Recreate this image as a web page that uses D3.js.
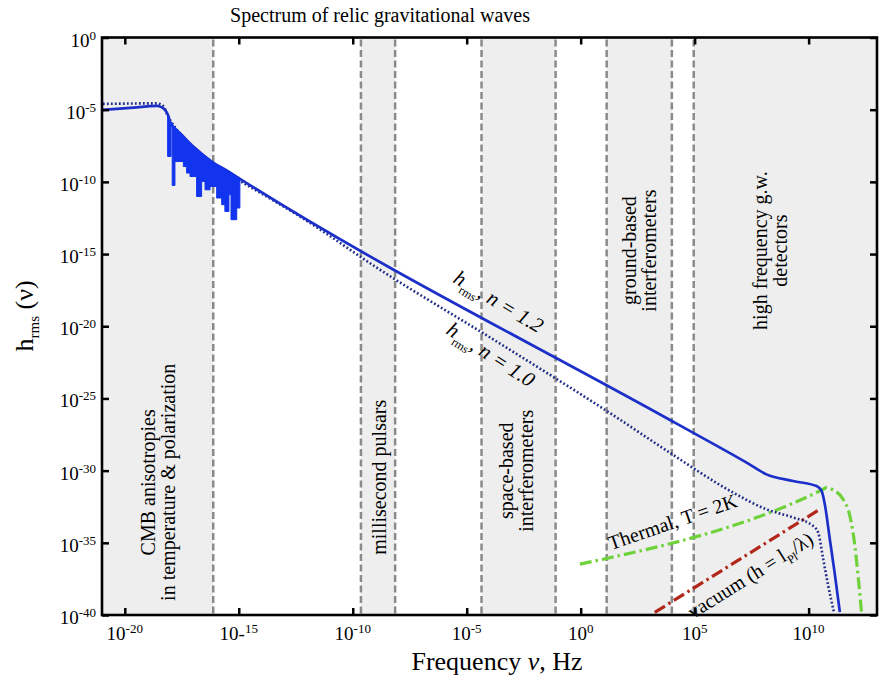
<!DOCTYPE html>
<html>
<head>
<meta charset="utf-8">
<script src="https://cdn.jsdelivr.net/npm/d3@7"></script>
<style>
body { margin: 0; background: #fff; }
text { font-family: "Liberation Serif", "Times New Roman", serif; fill: #000; }
</style>
</head>
<body>
<script>
// every value below is a log10 (frequency in Hz, h_rms dimensionless)

var xTickExp = [-20, -15, -10, -5, 0, 5, 10];
var xTickBase = ["10", "10-", "10", "10", "10", "10", "10"];
var xTickSup = ["-20", "15", "-10", "-5", "0", "5", "10"];
var yTickExp = [0, -5, -10, -15, -20, -25, -30, -35, -40];

// dashed borders of the detector windows
var bandEdges = [-16.12, -9.64, -8.14, -4.35, -1.1, 1.14, 4.0, 4.96];
// shaded windows
var grayBandFrom = [-21, -9.64, -4.35, 1.14, 4.96];
var grayBandTo = [-16.12, -8.14, -1.1, 4.0, 13];

var bandLabelLines = [
	["CMB anisotropies", "in temperature & polarization"],
	["millisecond pulsars"],
	["space-based", "interferometers"],
	["ground-based", "interferometers"],
	["high frequency g.w.", "detectors"]
];
var bandLabelF = [-18.68, -8.54, -2.99, 2.42, 8.17];
var bandLabelH = [-30.81, -30.46, -30.01, -14.76, -14.76];

// h_rms, n = 1.2 (solid)
var n12F = [-20.96, -19.77, -18.60, -18.37, -18.24, -18.09, -18.02, -17.50, -16.92, -16.19, -15.46, -14.95,
	4.35, 7.28, 8.15, 9.32, 10.35, 10.57, 10.71, 10.93, 11.15, 11.37];
var n12H = [-5.01, -4.88, -4.74, -4.84, -5.01, -5.43, -5.82, -6.74, -7.66, -8.59, -9.28, -9.79,
	-26.87, -29.45, -30.26, -30.72, -31.07, -31.41, -32.33, -34.75, -37.17, -39.8];

// oscillating part of the n = 1.2 spectrum: top envelope and the jagged lower edge (steps)
var oscUpperF = [-18.12, -18.09, -18.02, -17.50, -16.92, -16.19, -15.46, -14.95];
var oscUpperH = [-5.35, -5.43, -5.82, -6.74, -7.66, -8.59, -9.28, -9.79];
var oscLowF = [-18.12, -17.97, -17.92, -17.80, -17.43, -17.29, -17.14, -16.85, -16.63, -16.48,
	-16.26, -15.97, -15.75, -15.61, -15.43, -15.34, -15.09, -14.95];
var oscLowH = [-8.24, -6.05, -10.25, -8.59, -8.94, -9.39, -9.63, -11.01, -9.97, -10.55,
	-10.32, -11.12, -11.58, -12.05, -10.89, -12.62, -11.81, -9.79];

// h_rms, n = 1.0 (dotted)
var n10F = [-20.96, -18.60, -18.32, -18.11, -17.58, -16.70, -15.82, -14.80, -12.32, -8.81, -3.54,
	1.64, 3.91, 6.69, 8.15, 9.32, 10.20, 10.42, 10.64, 10.86, 11.11];
var n10H = [-4.60, -4.56, -4.74, -5.43, -6.67, -8.13, -9.16, -10.08, -12.39, -16.08, -21.20,
	-26.38, -28.76, -31.52, -32.68, -33.25, -33.83, -34.29, -36.13, -37.98, -39.8];

// thermal, T = 2K (green dash-dot)
var thermalF = [-0.035, 10.64, 10.78, 11.08, 11.51, 11.81, 12.03, 12.17, 12.32];
var thermalH = [-36.48, -31.29, -31.18, -31.34, -31.98, -33.14, -35.21, -37.29, -39.82];

// vacuum h = l_Pl / lambda (red dash-dot)
var vacuumF = [3.25, 10.49];
var vacuumH = [-39.82, -32.68];

// -------------------------------------- board

var W = 879, H = 676;
var margin = { top: 37.5, right: 2, bottom: 61, left: 102 };

var svg = d3.select("body").append("svg")
	.attr("width", W)
	.attr("height", H)
	.style("display", "block");

var x = d3.scaleLog()
	.domain([1e-21, 1e13])
	.range([margin.left, W - margin.right]);

var y = d3.scaleLog()
	.domain([1e-40, 1])
	.range([H - margin.bottom, margin.top]);

var px = function (e) { return x(Math.pow(10, e)); };
var py = function (e) { return y(Math.pow(10, e)); };

var line = d3.line()
	.x(function (d) { return px(d[0]); })
	.y(function (d) { return py(d[1]); });

svg.append("clipPath").attr("id", "plot_clip")
	.append("rect")
	.attr("x", margin.left)
	.attr("y", margin.top)
	.attr("width", W - margin.right - margin.left)
	.attr("height", H - margin.bottom - margin.top);

// shaded windows
svg.selectAll("rect.band")
	.data(d3.zip(grayBandFrom, grayBandTo))
	.enter().append("rect")
	.attr("class", "band")
	.attr("x", function (d) { return px(d[0]); })
	.attr("y", margin.top)
	.attr("width", function (d) { return px(d[1]) - px(d[0]); })
	.attr("height", H - margin.bottom - margin.top)
	.style("fill", "#eeeeee");

svg.selectAll("line.edge")
	.data(bandEdges)
	.enter().append("line")
	.attr("class", "edge")
	.attr("x1", px).attr("x2", px)
	.attr("y1", margin.top + 2)
	.attr("y2", H - margin.bottom)
	.style("stroke", "#8a8a8a")
	.style("stroke-width", 2.5)
	.style("stroke-dasharray", "7,3.5");

// band labels (rotated)
bandLabelLines.forEach(function (lines, i) {
	var t = svg.append("text")
		.attr("transform", "translate(" + px(bandLabelF[i]) + "," + py(bandLabelH[i]) + ") rotate(-90)")
		.attr("text-anchor", "middle")
		.style("font-size", "20px");
	lines.forEach(function (s, j) {
		t.append("tspan").attr("x", 0).attr("dy", j === 0 ? 0 : 20).text(s);
	});
});

// -------------------------------------- curves

var curves = svg.append("g").attr("clip-path", "url(#plot_clip)");

var smooth = d3.line()
	.x(function (d) { return px(d[0]); })
	.y(function (d) { return py(d[1]); })
	.curve(d3.curveMonotoneX);

curves.append("path")
	.datum(d3.zip(thermalF, thermalH))
	.attr("d", smooth)
	.style("fill", "none")
	.style("stroke", "#6fd23a")
	.style("stroke-width", 3.2)
	.style("stroke-dasharray", "12,4,2.5,4");

curves.append("path")
	.datum(d3.zip(vacuumF, vacuumH))
	.attr("d", line)
	.style("fill", "none")
	.style("stroke", "#b3261a")
	.style("stroke-width", 3.2)
	.style("stroke-dasharray", "12,4,2.5,4");

curves.append("path")
	.datum(d3.zip(n10F, n10H))
	.attr("d", smooth)
	.style("fill", "none")
	.style("stroke", "#1f2c88")
	.style("stroke-width", 2.6)
	.style("stroke-dasharray", "1.8,2.2");

curves.append("path")
	.datum(d3.zip(n12F, n12H))
	.attr("d", smooth)
	.style("fill", "none")
	.style("stroke", "#1c2fc8")
	.style("stroke-width", 2.7)
	.style("stroke-linejoin", "round");

// oscillations: polygon of top envelope + stepped bottom edge
var low = d3.zip(oscLowF, oscLowH);
var stepped = [];
low.forEach(function (d, i) {
	var next = i < low.length - 1 ? low[i + 1][0] : d[0];
	stepped.push([d[0], d[1]]);
	stepped.push([next, d[1]]);
});
var poly = d3.zip(oscUpperF, oscUpperH).concat(stepped.reverse());

curves.append("path")
	.datum(poly)
	.attr("d", function (d) { return line(d) + "Z"; })
	.style("fill", "#1234ee")
	.style("stroke", "#1234ee")
	.style("stroke-width", 1);

// -------------------------------------- curve labels

function rotLabel(f, h, ang, size, style) {
	return svg.append("text")
		.attr("transform", "translate(" + px(f) + "," + py(h) + ") rotate(" + ang + ")")
		.attr("text-anchor", "middle")
		.style("font-size", size + "px")
		.style("font-style", style);
}

var l12 = rotLabel(-3.76, -18.71, 31, 21, "italic");
l12.append("tspan").text("h");
l12.append("tspan").attr("dy", 6).style("font-size", "12px").style("font-style", "normal").text("rms");
l12.append("tspan").attr("dy", -6).text(", n = 1.2");

var l10 = rotLabel(-4.11, -22.37, 33, 21, "italic");
l10.append("tspan").text("h");
l10.append("tspan").attr("dy", 6).style("font-size", "12px").style("font-style", "normal").text("rms");
l10.append("tspan").attr("dy", -6).text(", n = 1.0");

rotLabel(4.13, -33.99, -19, 20, "normal").text("Thermal, T = 2K");

var lv = rotLabel(7.6, -37.65, -32, 20, "normal");
lv.append("tspan").text("vacuum (h = l");
lv.append("tspan").attr("dy", 5).style("font-size", "12px").text("Pl");
lv.append("tspan").attr("dy", -5).text("/λ)");

// -------------------------------------- axes

var xVals = xTickExp.map(function (e) { return Math.pow(10, e); });
var yVals = yTickExp.map(function (e) { return Math.pow(10, e); });

function styleAxis(g) {
	g.select(".domain").remove();
	g.selectAll(".tick line").style("stroke", "#000").style("stroke-width", 2.5);
}

svg.append("g")
	.attr("transform", "translate(0," + (H - margin.bottom) + ")")
	.call(d3.axisBottom(x).tickValues(xVals).tickSize(-7).tickFormat(""))
	.call(styleAxis);
svg.append("g")
	.attr("transform", "translate(0," + margin.top + ")")
	.call(d3.axisTop(x).tickValues(xVals).tickSize(-7).tickFormat(""))
	.call(styleAxis);
svg.append("g")
	.attr("transform", "translate(" + margin.left + ",0)")
	.call(d3.axisLeft(y).tickValues(yVals).tickSize(-7).tickFormat(""))
	.call(styleAxis);
svg.append("g")
	.attr("transform", "translate(" + (W - margin.right) + ",0)")
	.call(d3.axisRight(y).tickValues(yVals).tickSize(-7).tickFormat(""))
	.call(styleAxis);

svg.append("rect")
	.attr("x", margin.left)
	.attr("y", margin.top)
	.attr("width", W - margin.right - margin.left)
	.attr("height", H - margin.bottom - margin.top)
	.style("fill", "none")
	.style("stroke", "#000")
	.style("stroke-width", 2.6);

// tick labels with superscripts
xTickExp.forEach(function (e, i) {
	var t = svg.append("text")
		.attr("x", px(e))
		.attr("y", H - margin.bottom + 25)
		.attr("text-anchor", "middle")
		.style("font-size", "19px");
	t.append("tspan").text(xTickBase[i]);
	t.append("tspan").attr("dy", -7).style("font-size", "13px").text(xTickSup[i]);
});

yTickExp.forEach(function (e) {
	var t = svg.append("text")
		.attr("x", margin.left - 6)
		.attr("y", py(e) + 9)
		.attr("text-anchor", "end")
		.style("font-size", "19px");
	t.append("tspan").text("10");
	t.append("tspan").attr("dy", -7).style("font-size", "13px").text(e);
});

// titles
svg.append("text")
	.attr("x", 380)
	.attr("y", 22)
	.attr("text-anchor", "middle")
	.style("font-size", "20px")
	.text("Spectrum of relic gravitational waves");

var xt = svg.append("text")
	.attr("x", 497)
	.attr("y", 670)
	.attr("text-anchor", "middle")
	.style("font-size", "26px");
xt.append("tspan").text("Frequency ");
xt.append("tspan").style("font-style", "italic").text("ν");
xt.append("tspan").text(", Hz");

var yt = svg.append("text")
	.attr("transform", "translate(33,316) rotate(-90)")
	.attr("text-anchor", "middle")
	.style("font-size", "26px");
yt.append("tspan").text("h");
yt.append("tspan").attr("dy", 6).style("font-size", "15px").text("rms");
yt.append("tspan").attr("dy", -6).text(" (ν)");
</script>
</body>
</html>
